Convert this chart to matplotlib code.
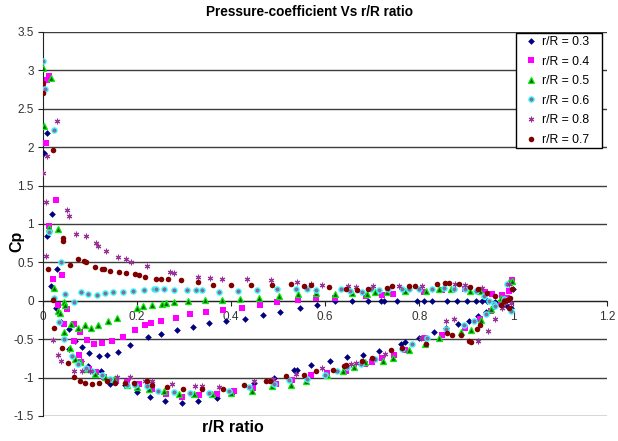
import matplotlib
matplotlib.use("Agg")
import matplotlib.pyplot as plt
from matplotlib.patches import Rectangle

plt.rcParams['font.family'] = ['Liberation Sans', 'DejaVu Sans']

# ---- data ----
labels = ['r/R = 0.3', 'r/R = 0.4', 'r/R = 0.5', 'r/R = 0.6', 'r/R = 0.8', 'r/R = 0.7']

r03_x = [0.002, 0.010, 0.019, 0.009, 0.031, 0.017, 0.028,
         0.038, 0.055, 0.068, 0.083, 0.099, 0.119, 0.136, 0.160, 0.186, 0.223, 0.252, 0.285,
         0.319, 0.353, 0.389, 0.429, 0.469, 0.505, 0.546, 0.583, 0.620, 0.658, 0.692, 0.718,
         0.725, 0.753, 0.796, 0.811, 0.828, 0.860, 0.881, 0.902, 0.920, 0.934, 0.945, 0.960,
         0.975, 0.994, 1.000,
         0.056, 0.081, 0.097, 0.109, 0.123, 0.143, 0.174, 0.200, 0.228, 0.260, 0.296, 0.331,
         0.370, 0.403, 0.450, 0.491, 0.534, 0.541, 0.571, 0.610, 0.647, 0.680, 0.714, 0.762,
         0.770, 0.800, 0.831, 0.856, 0.882, 0.906, 0.925, 0.941, 0.959, 0.973, 0.985]
r03_y = [1.93, 2.19, 1.13, 0.84, 0.42, 0.19, -0.10,
         -0.27, -0.37, -0.52, -0.60, -0.68, -0.72, -0.70, -0.67, -0.58, -0.47, -0.43, -0.38,
         -0.34, -0.29, -0.26, -0.24, -0.19, -0.15, -0.10, -0.05, 0.00, 0.00, 0.00, 0.00,
         0.00, 0.00, 0.00, 0.00, 0.00, 0.00, 0.00, 0.00, 0.00, 0.00, 0.00, -0.02,
         -0.05, -0.10, 0.15,
         -0.63, -0.78, -0.85, -0.93, -0.92, -1.08, -1.10, -1.19, -1.25, -1.31, -1.33, -1.30,
         -1.27, -1.20, -1.07, -1.00, -0.90, -0.90, -0.83, -0.78, -0.73, -0.70, -0.65, -0.56,
         -0.54, -0.48, -0.41, -0.36, -0.30, -0.26, -0.20, -0.14, -0.07, 0.00, -0.05]

r04_x = [0.000, 0.010, 0.013, 0.008, 0.028, 0.013, 0.022, 0.040, 0.033, 0.052,
         0.066, 0.080, 0.094, 0.110, 0.126, 0.147, 0.170, 0.197, 0.217, 0.231, 0.252, 0.283,
         0.314, 0.348, 0.384, 0.423, 0.462, 0.497, 0.543, 0.581, 0.622, 0.686, 0.720, 0.744,
         0.810, 0.849, 0.898, 0.939, 0.955, 0.976, 0.990, 0.998,
         0.045, 0.066, 0.077, 0.081, 0.098, 0.113, 0.130, 0.155, 0.180, 0.205, 0.233, 0.261,
         0.297, 0.332, 0.371, 0.406, 0.447, 0.495, 0.530, 0.569, 0.605, 0.644, 0.685, 0.699,
         0.720, 0.746, 0.770, 0.812, 0.848, 0.898, 0.930, 0.952, 0.973, 0.987]
r04_y = [2.80, 2.87, 2.93, 2.05, 1.31, 0.97, 0.29, 0.33, -0.06, -0.11,
         -0.30, -0.40, -0.51, -0.56, -0.55, -0.52, -0.47, -0.38, -0.32, -0.29, -0.26, -0.22,
         -0.17, -0.14, -0.12, -0.09, -0.06, -0.02, 0.01, 0.03, 0.04, 0.06, 0.07, 0.09,
         0.11, 0.14, 0.15, 0.12, 0.09, 0.07, 0.13, 0.27,
         -0.30, -0.52, -0.71, -0.80, -0.89, -0.93, -0.99, -1.04, -1.06, -1.08, -1.15, -1.22,
         -1.25, -1.23, -1.21, -1.18, -1.14, -1.08, -1.03, -0.97, -0.94, -0.91, -0.82, -0.80,
         -0.75, -0.70, -0.64, -0.48, -0.45, -0.36, -0.24, -0.13, -0.03, 0.03]

r05_x = [0.000, 0.017, 0.003, 0.013, 0.033, 0.024, 0.045, 0.047, 0.033, 0.037,
         0.045, 0.061, 0.075, 0.089, 0.103, 0.117, 0.139, 0.158, 0.200, 0.214, 0.232, 0.254,
         0.263, 0.279, 0.309, 0.344, 0.380, 0.419, 0.460, 0.502, 0.543, 0.581, 0.621, 0.658,
         0.690, 0.706, 0.732, 0.770, 0.814, 0.842, 0.867, 0.908, 0.930, 0.973, 0.990, 0.998,
         0.057, 0.068, 0.080, 0.094, 0.112, 0.133, 0.151, 0.179, 0.200, 0.225, 0.258, 0.290,
         0.321, 0.359, 0.401, 0.444, 0.488, 0.527, 0.560, 0.603, 0.637, 0.661, 0.685, 0.723,
         0.745, 0.778, 0.813, 0.842, 0.889, 0.911, 0.932, 0.952, 0.976]
r05_y = [3.03, 2.90, 2.27, 0.95, 0.93, 0.17, -0.02, -0.06, -0.13, -0.16,
         -0.41, -0.30, -0.35, -0.32, -0.35, -0.32, -0.26, -0.22, -0.09, -0.07, -0.06, -0.04,
         -0.03, -0.01, 0.00, 0.01, 0.01, 0.02, 0.04, 0.06, 0.09, 0.10, 0.09, 0.10,
         0.09, 0.11, 0.11, 0.13, 0.13, 0.15, 0.15, 0.13, 0.13, 0.04, 0.24, 0.26,
         -0.62, -0.76, -0.80, -0.89, -0.95, -0.99, -1.02, -1.09, -1.12, -1.15, -1.17, -1.21,
         -1.22, -1.22, -1.20, -1.17, -1.11, -1.10, -1.04, -0.97, -0.92, -0.86, -0.80, -0.78,
         -0.75, -0.64, -0.56, -0.49, -0.40, -0.38, -0.25, -0.11, -0.01]

r06_x = [0.000, 0.004, 0.023, 0.013, 0.038, 0.048, 0.024, 0.066,
         0.082, 0.096, 0.115, 0.132, 0.149, 0.170, 0.191, 0.215, 0.236, 0.240, 0.258, 0.279,
         0.306, 0.325, 0.338, 0.375, 0.414, 0.456, 0.497, 0.539, 0.561, 0.580, 0.633, 0.652,
         0.679, 0.697, 0.714, 0.734, 0.764, 0.778, 0.800, 0.828, 0.852, 0.874, 0.898, 0.920,
         0.937, 0.948, 0.959, 0.987,
         0.035, 0.045, 0.062, 0.076, 0.091, 0.105, 0.125, 0.144, 0.179, 0.197, 0.222, 0.244,
         0.279, 0.314, 0.353, 0.396, 0.438, 0.491, 0.523, 0.562, 0.600, 0.626, 0.647, 0.676,
         0.707, 0.764, 0.785, 0.817, 0.856, 0.895, 0.916, 0.941, 0.962, 0.980, 0.994]
r06_y = [3.12, 2.76, 2.23, 0.89, 0.50, 0.09, 0.03, -0.01,
         0.12, 0.09, 0.07, 0.10, 0.11, 0.12, 0.13, 0.14, 0.16, 0.16, 0.15, 0.14,
         0.14, 0.14, 0.14, 0.12, 0.13, 0.14, 0.16, 0.16, 0.16, 0.14, 0.15, 0.13,
         0.12, 0.15, 0.14, 0.16, 0.15, 0.16, 0.16, 0.16, 0.17, 0.15, 0.15, 0.13,
         0.06, 0.00, -0.04, 0.22,
         -0.28, -0.50, -0.72, -0.82, -0.88, -0.92, -0.97, -1.02, -1.10, -1.10, -1.11, -1.17,
         -1.19, -1.20, -1.20, -1.18, -1.12, -1.08, -1.03, -1.02, -0.96, -0.92, -0.86, -0.82,
         -0.76, -0.63, -0.56, -0.48, -0.37, -0.32, -0.26, -0.17, -0.07, 0.02, -0.13]

r08_x = [0.000, 0.010, 0.031, 0.006, 0.006,
         0.051, 0.056, 0.070, 0.091, 0.113, 0.118, 0.135, 0.159, 0.176, 0.187, 0.222, 0.270,
         0.278, 0.331, 0.355, 0.380, 0.435, 0.486, 0.541, 0.571, 0.594, 0.648, 0.665, 0.702,
         0.757, 0.806, 0.877, 0.898, 0.934, 0.983, 0.990,
         0.021, 0.032, 0.038, 0.066, 0.083, 0.101, 0.158, 0.186, 0.217, 0.233, 0.275, 0.324,
         0.339, 0.375, 0.450, 0.490, 0.539, 0.594, 0.654, 0.666, 0.702, 0.727, 0.803, 0.856,
         0.874, 0.925, 0.946, 0.962, 0.976, 0.996]
r08_y = [1.67, 1.88, 2.34, 1.28, 0.58,
         1.18, 1.10, 0.87, 0.85, 0.75, 0.71, 0.65, 0.57, 0.54, 0.50, 0.45, 0.37,
         0.36, 0.31, 0.30, 0.29, 0.28, 0.27, 0.25, 0.22, 0.21, 0.19, 0.18, 0.19,
         0.19, 0.19, 0.22, 0.20, 0.17, -0.03, 0.22,
         -0.51, -0.70, -0.79, -0.91, -0.92, -0.92, -0.99, -0.99, -1.04, -1.04, -1.08, -1.11,
         -1.11, -1.12, -1.05, -1.02, -0.95, -0.88, -0.82, -0.81, -0.76, -0.69, -0.48, -0.26,
         -0.24, -0.52, -0.39, -0.24, -0.10, -0.03]

r07_x = [0.000, 0.001, 0.022, 0.043, 0.043, 0.012, 0.021,
         0.058, 0.076, 0.088, 0.093, 0.111, 0.125, 0.130, 0.143, 0.162, 0.176, 0.196, 0.205,
         0.217, 0.240, 0.251, 0.267, 0.294, 0.329, 0.362, 0.401, 0.443, 0.487, 0.528, 0.555,
         0.571, 0.608, 0.644, 0.668, 0.692, 0.732, 0.743, 0.778, 0.790, 0.838, 0.854, 0.863,
         0.884, 0.908, 0.925, 0.943, 0.962, 0.980, 0.990, 0.998,
         0.023, 0.041, 0.054, 0.066, 0.080, 0.089, 0.105, 0.119, 0.137, 0.154, 0.174, 0.195,
         0.222, 0.233, 0.265, 0.299, 0.339, 0.384, 0.428, 0.474, 0.482, 0.516, 0.555, 0.581,
         0.617, 0.640, 0.645, 0.679, 0.700, 0.739, 0.764, 0.814, 0.860, 0.870, 0.888, 0.906,
         0.911, 0.922, 0.930, 0.973, 0.986, 0.993]
r07_y = [2.84, 2.71, 1.97, 0.82, 0.78, 0.41, 0.01,
         0.47, 0.54, 0.52, 0.51, 0.44, 0.42, 0.41, 0.39, 0.37, 0.36, 0.35, 0.33,
         0.31, 0.29, 0.28, 0.28, 0.27, 0.24, 0.20, 0.20, 0.21, 0.21, 0.22, 0.19,
         0.20, 0.18, 0.16, 0.14, 0.16, 0.17, 0.19, 0.19, 0.19, 0.22, 0.23, 0.23,
         0.22, 0.18, 0.15, 0.10, 0.06, 0.00, -0.09, 0.15,
         -0.35, -0.61, -0.81, -0.99, -1.04, -1.07, -1.08, -1.07, -1.05, -1.07, -1.07, -1.07,
         -1.05, -1.09, -1.12, -1.15, -1.15, -1.15, -1.09, -1.05, -1.05, -0.98, -0.96, -0.92,
         -0.90, -0.85, -0.84, -0.79, -0.75, -0.64, -0.62, -0.56, -0.42, -0.44, -0.45, -0.52,
         -0.54, -0.37, -0.32, -0.06, 0.01, 0.04]

x_ticks = [0, 0.2, 0.4, 0.6, 0.8, 1.0, 1.2]
x_tick_labels = ['0', '0.2', '0.4', '0.6', '0.8', '1', '1.2']
y_ticks = [-1.5, -1, -0.5, 0, 0.5, 1, 1.5, 2, 2.5, 3, 3.5]
y_tick_labels = ['-1.5', '-1', '-0.5', '0', '0.5', '1', '1.5', '2', '2.5', '3', '3.5']

# ---- figure ----
W, H = 618, 441
fig = plt.figure(figsize=(W / 100, H / 100), dpi=100)
ax_l, ax_r, ax_t, ax_b = 42.7, 607.5, 32, 416
ax = fig.add_axes([ax_l / W, 1 - ax_b / H, (ax_r - ax_l) / W, (ax_b - ax_t) / H])

series = [
    (r03_x, r03_y, dict(marker='D', color='#000080', markersize=3.4, markeredgewidth=0)),
    (r04_x, r04_y, dict(marker='s', color='#FF00FF', markersize=4.0, markeredgewidth=0)),
    (r05_x, r05_y, dict(marker='^', color='#00EE00', markerfacecolor='#1f4f1f',
                        markeredgecolor='#00EE00', markersize=4.4, markeredgewidth=0.9)),
    (r06_x, r06_y, dict(marker='o', color='#33FFFF', markerfacecolor='#8a6a9a',
                        markeredgecolor='#33FFFF', markersize=3.8, markeredgewidth=0.9)),
    (r08_x, r08_y, dict(marker=(6, 2, 0), color='#993399', markersize=4.0,
                        markeredgewidth=0.8)),
    (r07_x, r07_y, dict(marker='o', color='#800000', markersize=4.0, markeredgewidth=0)),
]

handles = []
for (xs, ys, style), lab in zip(series, labels):
    h, = ax.plot(xs, ys, linestyle='none', label=lab, zorder=3, **style)
    handles.append(h)

ax.set_xlim(0, 1.2)
ax.set_ylim(-1.5, 3.5)
ax.set_xticks(x_ticks)
ax.set_xticklabels(x_tick_labels)
ax.set_yticks(y_ticks)
ax.set_yticklabels(y_tick_labels)

ax.yaxis.grid(True, color='#3d3d3d', linewidth=1.0, zorder=1)
ax.set_axisbelow(True)
for s in ['top', 'right']:
    ax.spines[s].set_visible(False)
ax.spines['bottom'].set_position(('data', 0))
ax.spines['bottom'].set_color('#222222')
ax.spines['left'].set_color('#222222')
ax.tick_params(axis='both', direction='out', length=3.5, width=0.8, color='#222222',
               labelsize=8.5, labelcolor='#333333')
ax.tick_params(axis='x', pad=4)
ax.tick_params(axis='y', pad=3)

# legend box drawn as a plain rectangle, entries placed inside
box = Rectangle(((516 - ax_l) / (ax_r - ax_l), (ax_b - 148) / (ax_b - ax_t)),
                (602 - 516) / (ax_r - ax_l), (148 - 33) / (ax_b - ax_t),
                transform=ax.transAxes, facecolor='white', edgecolor='black',
                linewidth=1.0, zorder=5, clip_on=False)
ax.add_patch(box)
leg = ax.legend(handles=handles, loc='upper left',
                bbox_to_anchor=((525 - ax_l) / (ax_r - ax_l), (ax_b - 36) / (ax_b - ax_t)),
                frameon=False, fontsize=8.8, handlelength=1.0, handletextpad=0.35,
                labelspacing=0.62, borderpad=0.0, borderaxespad=0.0, markerscale=1.0)
leg.set_zorder(6)

# titles
fig.text(310 / W, 1 - 12 / H, 'Pressure-coefficient Vs r/R ratio', ha='center', va='center',
         fontsize=9.8, fontweight='bold')
fig.text(233 / W, 1 - 428 / H, 'r/R ratio', ha='center', va='center',
         fontsize=11.5, fontweight='bold')
fig.text(16.5 / W, 1 - 241 / H, 'Cp', ha='center', va='center', rotation=90,
         fontsize=11.5, fontweight='bold')

fig.savefig('out.png', dpi=100)
